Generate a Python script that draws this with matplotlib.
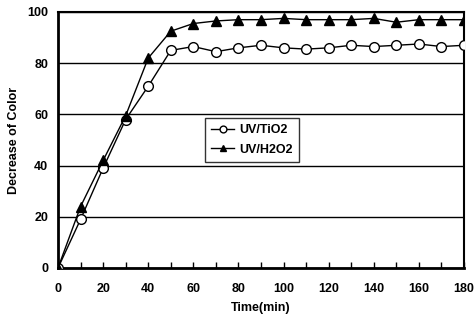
import matplotlib
matplotlib.use("Agg")
import matplotlib.pyplot as plt
from matplotlib.ticker import MultipleLocator

plt.rcParams['font.family'] = ['Liberation Sans', 'DejaVu Sans']
plt.rcParams['font.weight'] = 'bold'

time = [0, 10, 20, 30, 40, 50, 60, 70, 80, 90, 100, 110, 120, 130, 140, 150, 160, 170, 180]
uv_tio2 = [0, 19, 39, 58, 71, 85, 86.5, 84.5, 86, 87, 86, 85.5, 86, 87, 86.5, 87, 87.5, 86.5, 87]
uv_h2o2 = [0, 24, 42, 59.5, 82, 92.5, 95.5, 96.5, 97, 97, 97.5, 97, 97, 97, 97.5, 96, 97, 97, 97]

fig = plt.figure(figsize=(4.74, 3.25), dpi=100)
ax = fig.add_axes([58/474, 1 - 268/325, (464-58)/474, (268-12)/325])

ax.plot(time, uv_tio2, color='black', lw=1, marker='o', markersize=7,
        markerfacecolor='white', markeredgecolor='black', markeredgewidth=1, label='UV/TiO2', zorder=3)
ax.plot(time, uv_h2o2, color='black', lw=1, marker='^', markersize=7,
        markerfacecolor='black', markeredgecolor='black', label='UV/H2O2', zorder=3)

ax.set_xlim(0, 180)
ax.set_ylim(0, 100)
ax.xaxis.set_major_locator(MultipleLocator(20))
ax.xaxis.set_minor_locator(MultipleLocator(10))
ax.yaxis.set_major_locator(MultipleLocator(20))
ax.tick_params(axis='x', which='both', direction='in', length=4, width=1, top=False, labelsize=9, pad=11)
ax.tick_params(axis='y', which='both', length=0, labelsize=9, pad=7)
for lab in ax.get_xticklabels() + ax.get_yticklabels():
    lab.set_fontweight('bold')

ax.grid(axis='y', color='black', lw=1)
ax.set_axisbelow(True)
for s in ['left', 'bottom']:
    ax.spines[s].set_linewidth(2)
for s in ['top', 'right']:
    ax.spines[s].set_linewidth(1.5)

ax.set_xlabel('Time(min)', fontsize=9, fontweight='bold', labelpad=5)
ax.set_ylabel('Decrease of Color', fontsize=9, fontweight='bold', labelpad=5)

leg = ax.legend(loc='upper left', bbox_to_anchor=((205-58)/406, (268-118)/256),
                frameon=True, fancybox=False, edgecolor='black',
                handlelength=1.8, borderpad=0.5, labelspacing=0.6, handletextpad=0.4,
                markerscale=0.7, borderaxespad=0,
                prop={'weight': 'bold', 'size': 9})
leg.get_frame().set_linewidth(1)

fig.savefig('out.png', dpi=100)
